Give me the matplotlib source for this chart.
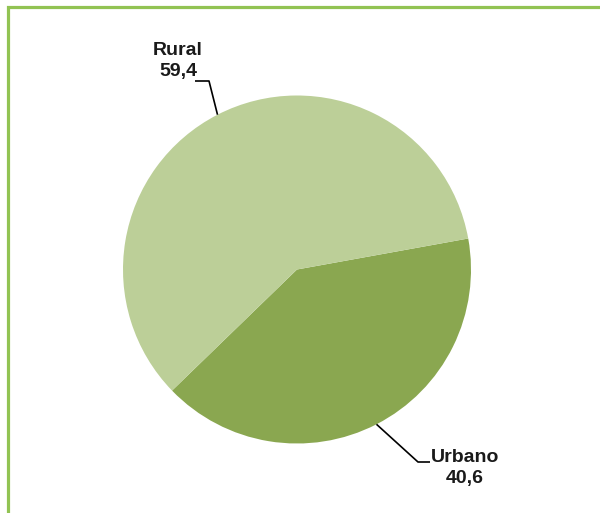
import numpy as np
import matplotlib.pyplot as plt
from matplotlib.patches import Rectangle

# Dados
categorias = ["Urbano", "Rural"]
valores = [40.6, 59.4]
rotulos = ["40,6", "59,4"]
cores = ["#8aa750", "#bccf98"]

W, H = 600, 513
cx, cy, R = 297, 269.5, 174  # centro e raio da pizza em pixels

fig = plt.figure(figsize=(6, 5.13), dpi=100)
plt.rcParams['font.family'] = ['Liberation Sans Narrow', 'Liberation Sans', 'DejaVu Sans']
ax = fig.add_axes([0, 0, 1, 1])

wedges, _ = ax.pie(valores, colors=cores, startangle=-135.9, counterclock=True,
                   radius=1, wedgeprops=dict(linewidth=0))
ax.set_xlim(-cx / R, (W - cx) / R)
ax.set_ylim((cy - H) / R, cy / R)
ax.set_aspect('auto')
ax.axis('off')

# posição dos rótulos (pixels): texto, cotovelo, fim da linha
layout = {
    "Rural": dict(texto=(178, 61), cotovelo=(209, 81), fim=(195, 81)),
    "Urbano": dict(texto=(465, 468), cotovelo=(418, 462), fim=(430, 462)),
}

def px(p):
    return ((p[0] - cx) / R, (cy - p[1]) / R)

for w, cat, rot in zip(wedges, categorias, rotulos):
    ang = np.deg2rad((w.theta1 + w.theta2) / 2)
    p0 = (np.cos(ang), np.sin(ang))
    lay = layout[cat]
    p1 = px(lay["cotovelo"])
    p2 = px(lay["fim"])
    ax.plot([p0[0], p1[0], p2[0]], [p0[1], p1[1], p2[1]], color='black', lw=1.2,
            solid_capstyle='butt', clip_on=False)
    tx, ty = px(lay["texto"])
    ax.text(tx, ty, f"{cat}\n{rot}", ha='center', va='center', fontsize=14,
            fontweight='bold', linespacing=1.3, color='#1a1a1a')

# moldura verde
fig.patches.append(Rectangle((7.5 / W, -0.1), 1.2, 1 - 7 / H + 0.1, transform=fig.transFigure,
                             fill=False, edgecolor='#92c353', linewidth=2.3))

fig.savefig("out.png", dpi=100)
